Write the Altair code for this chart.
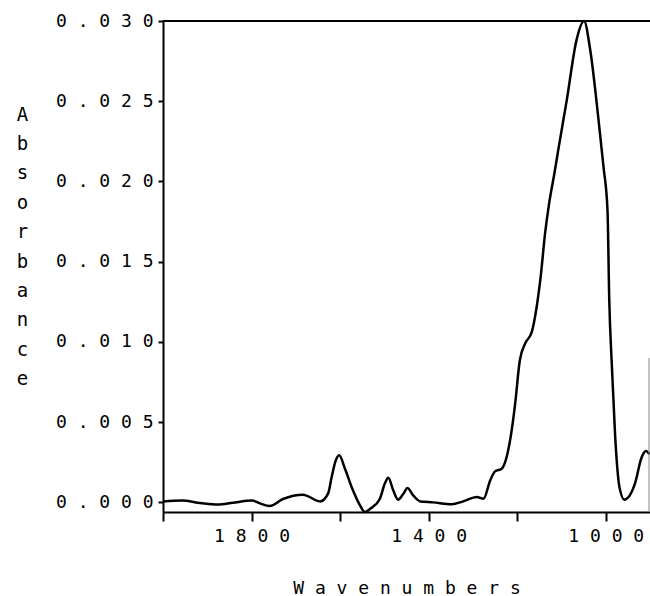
import altair as alt
import pandas as pd

# Infrared absorbance spectrum, wavenumber (cm-1) vs absorbance
wavenumber = [
    2000, 1957, 1916, 1876, 1842, 1799, 1781, 1759, 1729, 1684,
    1645, 1627, 1619, 1611, 1602, 1589, 1571, 1555, 1544, 1532,
    1510, 1499, 1491, 1480, 1469, 1457, 1448, 1435, 1419, 1390,
    1348, 1322, 1291, 1276, 1261, 1250, 1235, 1216, 1205, 1194,
    1182, 1167, 1156, 1147, 1137, 1128, 1116, 1107, 1088, 1066,
    1049, 1035, 1017, 1005, 996, 992, 986, 979, 969, 958,
    934, 919, 909, 901,
]
absorbance = [
    0.00006, 0.00011, -0.00004, -0.00014, -0.00002, 0.00011, -0.00006, -0.00023, 0.00021, 0.00048,
    0.00006, 0.00056, 0.00158, 0.00251, 0.00293, 0.00210, 0.00075, -0.00019, -0.00060, -0.00040,
    0.00023, 0.00117, 0.00154, 0.00075, 0.00017, 0.00054, 0.00089, 0.00044, 0.00006, 0.00000,
    -0.00012, 0.00006, 0.00034, 0.00023, 0.00137, 0.00193, 0.00210, 0.00387, 0.00605, 0.00886,
    0.00990, 0.01062, 0.01218, 0.01405, 0.01676, 0.01860, 0.02050, 0.02200, 0.02507, 0.02881,
    0.03000, 0.02819, 0.02403, 0.02091, 0.01821, 0.01260, 0.00843, 0.00428, 0.00095, 0.00017,
    0.00117, 0.00280, 0.00320, 0.00300,
]

x_ticks = [2000, 1800, 1600, 1400, 1200, 1000]
x_labeled = [1800, 1400, 1000]
y_ticks = [0.000, 0.005, 0.010, 0.015, 0.020, 0.025, 0.030]
x_domain = [900, 2000]
y_domain = [-0.0006, 0.030]
frame_right_top = 0.0090

FONT = "DejaVu Sans Mono"

df = pd.DataFrame({"wn": wavenumber, "abs": absorbance})

# plotter-style wide lettering: characters separated by spaces
x_label_expr = (
    f"indexof({x_labeled}, datum.value) >= 0 ? "
    "join(split(format(datum.value, 'd'), ''), ' ') : ''"
)
y_label_expr = "join(split(format(datum.value, '.3f'), ''), ' ')"

x_axis = alt.Axis(
    values=x_ticks, labelExpr=x_label_expr, grid=False,
    tickSize=9, tickWidth=2, tickColor="black",
    domainWidth=2, domainColor="black",
    labelFont=FONT, labelFontSize=18, labelColor="black", labelPadding=6,
    labelFlush=False, labelOverlap=False,
    title=" ".join("Wavenumbers"), titleFont=FONT, titleFontSize=18,
    titleFontWeight="normal", titleColor="black",
    titleBaseline="alphabetic", titleY=81,
)
y_axis = alt.Axis(
    values=y_ticks, labelExpr=y_label_expr, grid=False,
    tickSize=5, tickWidth=2, tickColor="black",
    domainWidth=2, domainColor="black",
    labelFont=FONT, labelFontSize=18, labelColor="black", labelPadding=5,
    labelOverlap=False,
    title=list("Absorbance"), titleFont=FONT, titleFontSize=19,
    titleFontWeight="normal", titleColor="black", titleAngle=0,
    titleAlign="center", titleBaseline="alphabetic",
    titleX=-141, titleY=99, titleLineHeight=29.4,
)

line = alt.Chart(df).mark_line(
    color="black", strokeWidth=2.5, interpolate="monotone"
).encode(
    x=alt.X("wn:Q", scale=alt.Scale(domain=x_domain, reverse=True, nice=False, zero=False), axis=x_axis),
    y=alt.Y("abs:Q", scale=alt.Scale(domain=y_domain, nice=False, zero=False), axis=y_axis),
    order=alt.Order("wn:Q", sort="descending"),
)

top_frame = alt.Chart(pd.DataFrame({"y": [y_domain[1]]})).mark_rule(
    color="black", strokeWidth=2
).encode(y="y:Q")

right_frame = alt.Chart(pd.DataFrame({"y": [y_domain[0]], "y2": [frame_right_top]})).mark_rule(
    color="#888888", strokeWidth=1
).encode(x=alt.value(486), y="y:Q", y2="y2:Q")

chart = alt.layer(line, top_frame, right_frame).properties(
    width=487, height=491, autosize="none",
    padding={"left": 163, "top": 21, "right": 0, "bottom": 84},
    background="white",
).configure_view(stroke=None)

chart.save("out.html", embed_options={"renderer": "svg", "actions": False})
